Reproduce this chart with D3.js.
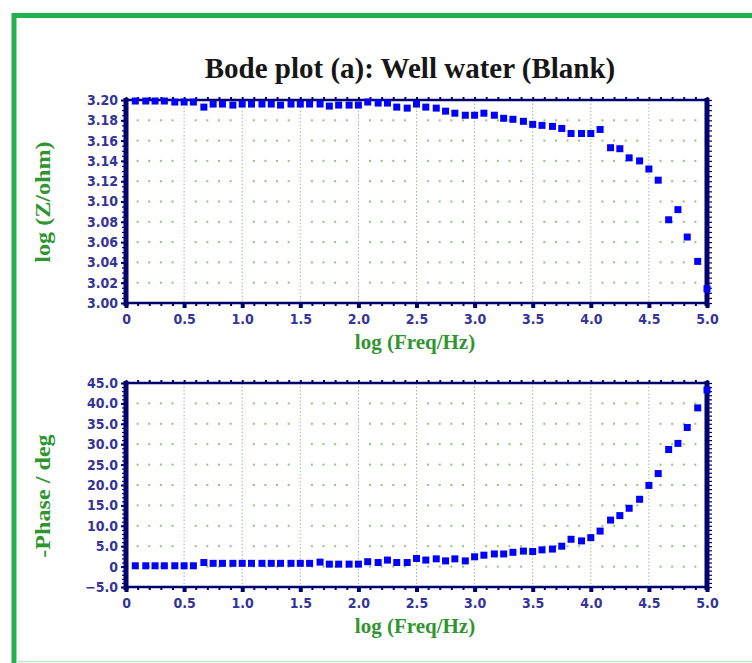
<!DOCTYPE html>
<html>
<head>
<meta charset="utf-8">
<script src="https://cdn.jsdelivr.net/npm/d3@7"></script>
<style>
  body { margin: 0; background: #fff; }
  svg { display: block; }
  .tick-label { font-family: "Liberation Sans Narrow", "Arial Narrow", "DejaVu Sans Condensed", "Liberation Sans", sans-serif; font-weight: bold; font-size: 14px; fill: #34349a; }
  .axis-title { font-family: "Liberation Serif", "Times New Roman", serif; font-weight: bold; font-size: 21px; fill: #2f962f; }
</style>
</head>
<body>
<script>
// log(Freq/Hz) of each measured point
const logFreq = [0.08, 0.17, 0.25, 0.33, 0.42, 0.50, 0.58, 0.67, 0.75, 0.83,
  0.92, 1.00, 1.08, 1.17, 1.25, 1.33, 1.42, 1.50, 1.58, 1.67,
  1.75, 1.83, 1.92, 2.00, 2.08, 2.17, 2.25, 2.33, 2.42, 2.50,
  2.58, 2.67, 2.75, 2.83, 2.92, 3.00, 3.08, 3.17, 3.25, 3.33,
  3.42, 3.50, 3.58, 3.67, 3.75, 3.83, 3.92, 4.00, 4.08, 4.17,
  4.25, 4.33, 4.42, 4.50, 4.58, 4.67, 4.75, 4.83, 4.92, 5.00];

// log(Z/ohm)
const logZ = [3.199, 3.199, 3.199, 3.199, 3.198, 3.198, 3.198, 3.193, 3.196, 3.196,
  3.195, 3.196, 3.196, 3.196, 3.196, 3.195, 3.196, 3.196, 3.196, 3.196,
  3.194, 3.195, 3.195, 3.195, 3.198, 3.197, 3.197, 3.193, 3.192, 3.196,
  3.193, 3.192, 3.189, 3.187, 3.185, 3.185, 3.187, 3.185, 3.182, 3.181,
  3.179, 3.176, 3.175, 3.174, 3.172, 3.167, 3.167, 3.167, 3.171, 3.153,
  3.152, 3.143, 3.140, 3.132, 3.121, 3.082, 3.092, 3.065, 3.041, 3.014];

// -Phase / deg
const phase = [0.2, 0.2, 0.2, 0.2, 0.2, 0.2, 0.2, 1.0, 0.8, 0.8,
  0.8, 0.8, 0.8, 0.8, 0.8, 0.8, 0.8, 0.8, 0.8, 1.1,
  0.6, 0.6, 0.6, 0.6, 1.2, 1.0, 1.6, 1.0, 1.0, 2.0,
  1.6, 1.9, 1.4, 1.9, 1.4, 2.4, 2.8, 3.1, 3.1, 3.5,
  3.8, 3.7, 4.1, 4.3, 5.0, 6.7, 6.3, 7.1, 8.7, 11.4,
  12.5, 14.3, 16.5, 19.9, 22.8, 28.7, 30.2, 34.1, 38.9, 43.3];

const freqTicks = [0, 0.5, 1.0, 1.5, 2.0, 2.5, 3.0, 3.5, 4.0, 4.5, 5.0];
const zTicks = [3.00, 3.02, 3.04, 3.06, 3.08, 3.10, 3.12, 3.14, 3.16, 3.18, 3.20];
const phaseTicks = [-5, 0, 5, 10, 15, 20, 25, 30, 35, 40, 45];

const title = "Bode plot (a): Well water (Blank)";
const xTitle = "log (Freq/Hz)";

const W = 752, H = 663;
const navy = "#00006e";
const gridGreen = "#8cc878";

const svg = d3.select("body").append("svg").attr("width", W).attr("height", H);

// green outer frame
svg.append("rect").attr("x", 14).attr("y", 15.5).attr("width", 800).attr("height", 700)
  .attr("fill", "none").attr("stroke", "#22b14c").attr("stroke-width", 5);
svg.append("line").attr("x1", 16).attr("x2", W).attr("y1", 661.5).attr("y2", 661.5)
  .attr("stroke", "#bdeccb").attr("stroke-width", 1.5);

svg.append("text").attr("x", 410).attr("y", 78).attr("text-anchor", "middle")
  .style("font-family", "'Liberation Serif', 'Times New Roman', serif")
  .style("font-weight", "bold").style("font-size", "29px").style("fill", "#161616")
  .text(title);

const x = d3.scaleLinear().domain([0, 5]).range([126, 707]);

function drawPanel(cfg) {
  const y = d3.scaleLinear().domain(cfg.domain).range([cfg.bottom, cfg.top]);
  const g = svg.append("g");

  // dotted vertical grid lines at major x ticks
  g.selectAll("line.vgrid")
    .data(freqTicks.slice(1, -1))
    .join("line")
    .attr("x1", d => x(d)).attr("x2", d => x(d))
    .attr("y1", cfg.top).attr("y2", cfg.bottom)
    .attr("stroke", gridGreen).attr("stroke-width", 1)
    .attr("stroke-dasharray", "1.5,2");

  // grid dots at minor x / major y
  const minorX = x.ticks(50).filter(d => d > 0 && d < 5 && Math.abs(d * 2 - Math.round(d * 2)) > 1e-6);
  const dots = [];
  cfg.ticks.slice(1, -1).forEach(v => minorX.forEach(f => dots.push([f, v])));
  g.selectAll("rect.dot")
    .data(dots)
    .join("rect")
    .attr("x", d => x(d[0]) - 1).attr("y", d => y(d[1]) - 1)
    .attr("width", 2).attr("height", 2)
    .attr("fill", gridGreen);

  // minor ticks
  const minorY = y.ticks(50);
  g.append("g").attr("transform", `translate(${x(0)},0)`)
    .call(d3.axisLeft(y).tickValues(minorY).tickSize(4).tickFormat(""))
    .call(a => a.select(".domain").remove())
    .selectAll("line").attr("stroke", navy).attr("stroke-width", 1.2);
  g.append("g").attr("transform", `translate(${x(5)},0)`)
    .call(d3.axisRight(y).tickValues(minorY).tickSize(5).tickFormat(""))
    .call(a => a.select(".domain").remove())
    .selectAll("line").attr("stroke", navy).attr("stroke-width", 1.2);
  g.append("g").attr("transform", `translate(0,${cfg.top})`)
    .call(d3.axisTop(x).tickValues(x.ticks(50)).tickSize(3).tickFormat(""))
    .call(a => a.select(".domain").remove())
    .selectAll("line").attr("stroke", navy).attr("stroke-width", 2);

  // frame
  g.append("rect").attr("x", x(0)).attr("y", cfg.top)
    .attr("width", x(5) - x(0)).attr("height", cfg.bottom - cfg.top)
    .attr("fill", "none").attr("stroke", navy).attr("stroke-width", 2.5);
  g.append("line").attr("x1", x(0)).attr("x2", x(0)).attr("y1", cfg.top - 2).attr("y2", cfg.bottom + 3)
    .attr("stroke", navy).attr("stroke-width", 5);
  g.append("line").attr("x1", x(5)).attr("x2", x(5)).attr("y1", cfg.top - 2).attr("y2", cfg.bottom + 3)
    .attr("stroke", navy).attr("stroke-width", 5);

  // bottom axis: minor dashes then labelled major ticks
  g.append("g").attr("transform", `translate(0,${cfg.bottom})`)
    .call(d3.axisBottom(x).tickValues(x.ticks(50)).tickSize(3).tickFormat(""))
    .call(a => a.select(".domain").remove())
    .selectAll("line").attr("stroke", navy).attr("stroke-width", 2);
  const xAxis = g.append("g").attr("transform", `translate(0,${cfg.bottom})`)
    .call(d3.axisBottom(x).tickValues(freqTicks).tickSize(5).tickPadding(6)
      .tickFormat(d => d === 0 ? "0" : d3.format(".1f")(d)));
  xAxis.select(".domain").remove();
  xAxis.selectAll("line").attr("stroke", navy).attr("stroke-width", 4);
  xAxis.selectAll("text").attr("class", "tick-label");

  const yAxis = g.append("g").attr("transform", `translate(${x(0)},0)`)
    .call(d3.axisLeft(y).tickValues(cfg.ticks).tickSize(5).tickPadding(3).tickFormat(cfg.format));
  yAxis.select(".domain").remove();
  yAxis.selectAll("line").attr("stroke", navy).attr("stroke-width", 2);
  yAxis.selectAll("text").attr("class", "tick-label");

  // points
  g.selectAll("rect.pt")
    .data(cfg.values)
    .join("rect")
    .attr("class", "pt")
    .attr("x", (d, i) => x(logFreq[i]) - 3.5)
    .attr("y", d => y(d) - 3.5)
    .attr("width", 7).attr("height", 7)
    .attr("fill", "#0000ff");

  // titles
  g.append("text").attr("class", "axis-title")
    .attr("x", 415).attr("y", cfg.bottom + 46).attr("text-anchor", "middle")
    .text(xTitle);
  g.append("text").attr("class", "axis-title")
    .attr("transform", `translate(50,${cfg.yTitleY}) rotate(-90) scale(1.15,1)`)
    .attr("text-anchor", "middle")
    .text(cfg.yTitle);
}

drawPanel({
  domain: [3.0, 3.2], top: 100, bottom: 303,
  ticks: zTicks, format: d3.format(".2f"),
  values: logZ, yTitle: "log (Z/ohm)", yTitleY: 202
});

drawPanel({
  domain: [-5, 45], top: 383, bottom: 587,
  ticks: phaseTicks, format: d => d === 0 ? "0" : d3.format(".1f")(d),
  values: phase, yTitle: "-Phase / deg", yTitleY: 496
});
</script>
</body>
</html>
